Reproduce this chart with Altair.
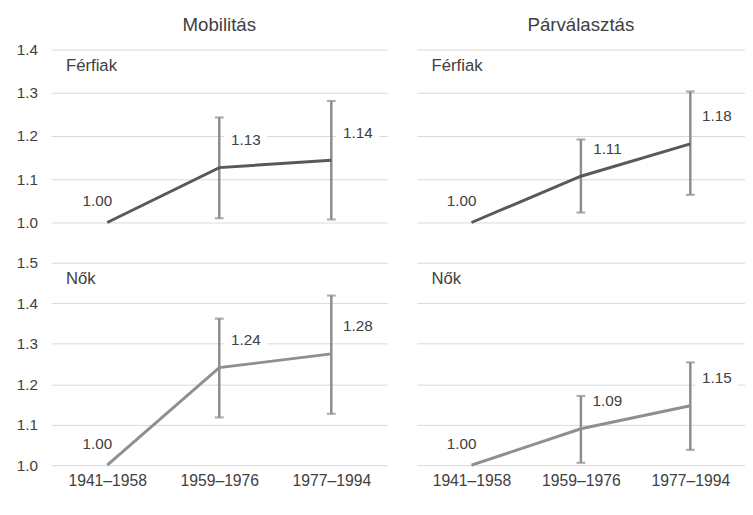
import altair as alt
import pandas as pd

FONT = "Liberation Sans"
TXT = "#404040"

periods = ["1941–1958", "1959–1976", "1977–1994"]

# Mobilitás – Férfiak
mob_men = [1.00, 1.127, 1.144]
mob_men_lo = [None, 1.010, 1.007]
mob_men_hi = [None, 1.243, 1.281]
mob_men_lab = ["1.00", "1.13", "1.14"]

# Párválasztás – Férfiak
par_men = [1.00, 1.107, 1.182]
par_men_lo = [None, 1.023, 1.064]
par_men_hi = [None, 1.192, 1.303]
par_men_lab = ["1.00", "1.11", "1.18"]

# Mobilitás – Nők
mob_wom = [1.00, 1.241, 1.275]
mob_wom_lo = [None, 1.118, 1.127]
mob_wom_hi = [None, 1.362, 1.419]
mob_wom_lab = ["1.00", "1.24", "1.28"]

# Párválasztás – Nők
par_wom = [1.00, 1.090, 1.147]
par_wom_lo = [None, 1.006, 1.038]
par_wom_hi = [None, 1.171, 1.254]
par_wom_lab = ["1.00", "1.09", "1.15"]

top_ticks = [1.0, 1.05, 1.1, 1.15, 1.2, 1.25, 1.3, 1.35, 1.4]
bot_ticks = [1.0, 1.05, 1.1, 1.15, 1.2, 1.25, 1.3, 1.35, 1.4, 1.45, 1.5]

MEN_COLOR = "#595959"
WOM_COLOR = "#8f8f8f"
ERR_COLOR = "#8c8c8c"

BOX_PATH = "M-1,-0.45H1V0.45H-1Z"


def panel(vals, lo, hi, labs, color, domain, ticks, height, width,
          show_ylabels, show_x, title, rowlabel):
    df = pd.DataFrame({"period": periods, "value": vals, "lo": lo, "hi": hi,
                       "label": labs, "idx": [0, 1, 2]})
    xscale = alt.Scale(type="point", padding=0.5, domain=periods)
    if show_x:
        xaxis = alt.Axis(title=None, labelFont=FONT, labelFontSize=16,
                         labelColor=TXT, ticks=False, domain=False, grid=False,
                         labelPadding=8, labelAngle=0)
    else:
        xaxis = None
    grid_cond = {"condition": {"test": "round(datum.value*20) % 2 == 0",
                               "value": "#d9d9d9"},
                 "value": "#f0f0f0"}
    yaxis = alt.Axis(title=None, values=ticks, grid=True, gridColor=grid_cond,
                     gridWidth=1, ticks=False, domain=False, labelOverlap=False,
                     labelFont=FONT, labelFontSize=15.5, labelColor=TXT,
                     labelPadding=14,
                     labelExpr=("round(datum.value*20) % 2 == 0 ? format(datum.value, '.1f') : ''"
                                if show_ylabels else "''"))
    yscale = alt.Scale(domain=domain, nice=False, zero=False)

    base = alt.Chart(df)
    x = alt.X("period:N", scale=xscale, axis=xaxis, sort=periods)

    err = base.transform_filter("datum.lo != null").mark_rule(
        color=ERR_COLOR, strokeWidth=2.5).encode(
        x=x, y=alt.Y("lo:Q", scale=yscale, axis=yaxis), y2="hi:Q")
    cap_lo = base.transform_filter("datum.lo != null").mark_tick(
        color=ERR_COLOR, size=9, thickness=2.2).encode(
        x=x, y=alt.Y("lo:Q", scale=yscale))
    cap_hi = base.transform_filter("datum.hi != null").mark_tick(
        color=ERR_COLOR, size=9, thickness=2.2).encode(
        x=x, y=alt.Y("hi:Q", scale=yscale))
    line = base.mark_line(color=color, strokeWidth=3).encode(
        x=x, y=alt.Y("value:Q", scale=yscale))

    layers = [err, cap_lo, cap_hi, line]
    for cond, dx, dy in [("datum.idx == 0", -10, -22), ("datum.idx > 0", 27, -28)]:
        box = base.transform_filter(cond).mark_point(
            shape=BOX_PATH, size=1900, filled=True, color="white", opacity=1,
            strokeWidth=0, xOffset=dx, yOffset=dy).encode(
            x=x, y=alt.Y("value:Q", scale=yscale))
        txt = base.transform_filter(cond).mark_text(
            font=FONT, fontSize=15.5, color=TXT, dx=dx, dy=dy,
            align="center", baseline="middle").encode(
            x=x, y=alt.Y("value:Q", scale=yscale), text="label:N")
        layers += [box, txt]

    rl = pd.DataFrame({"t": [rowlabel]})
    rl_box = alt.Chart(rl).mark_rect(color="white").encode(
        x=alt.value(0), x2=alt.value(90), y=alt.value(7), y2=alt.value(28))
    rl_txt = alt.Chart(rl).mark_text(font=FONT, fontSize=17, color=TXT,
                                     align="left", baseline="middle").encode(
        x=alt.value(15), y=alt.value(17), text="t:N")
    layers += [rl_box, rl_txt]

    props = dict(width=width, height=height)
    if title:
        props["title"] = alt.Title(title, font=FONT, fontSize=19, color=TXT,
                                   fontWeight="normal", offset=8)
    return alt.layer(*layers).properties(**props)


W_L, W_R = 342, 334
A = panel(mob_men, mob_men_lo, mob_men_hi, mob_men_lab, MEN_COLOR, [1.0, 1.4],
          top_ticks, 176, W_L, True, False, "Mobilitás", "Férfiak")
B = panel(par_men, par_men_lo, par_men_hi, par_men_lab, MEN_COLOR, [1.0, 1.4],
          top_ticks, 176, W_R, False, False, "Párválasztás", "Férfiak")
C = panel(mob_wom, mob_wom_lo, mob_wom_hi, mob_wom_lab, WOM_COLOR, [1.0, 1.5],
          bot_ticks, 206, W_L, True, True, None, "Nők")
D = panel(par_wom, par_wom_lo, par_wom_hi, par_wom_lab, WOM_COLOR, [1.0, 1.5],
          bot_ticks, 206, W_R, False, True, None, "Nők")

chart = alt.vconcat(
    alt.hconcat(A, B, spacing=16),
    alt.hconcat(C, D, spacing=16),
    spacing=25,
).properties(
    padding={"left": 8, "top": 4, "right": 0, "bottom": 0},
    background="white",
).configure_view(strokeWidth=0, stroke="transparent")

chart.save("out.html", embed_options={"renderer": "svg", "actions": False})
